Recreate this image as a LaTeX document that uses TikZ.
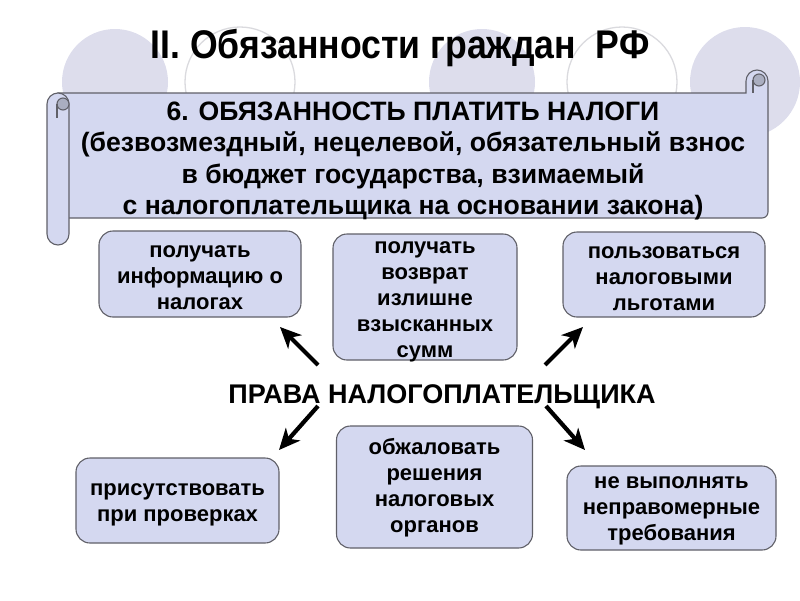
\documentclass[tikz,border=0pt]{standalone}
\usepackage{fontspec}
\setmainfont{Liberation Sans}
\newfontfamily\condfont[FakeStretch=0.89]{Liberation Sans}
\usetikzlibrary{arrows.meta}
\definecolor{boxfill}{RGB}{212,216,240}
\definecolor{boxline}{RGB}{96,96,104}
\definecolor{circfill}{RGB}{221,221,236}
\definecolor{circline}{RGB}{218,218,222}
\definecolor{curlfill}{RGB}{170,174,192}
\tikzset{
  rbox/.style={draw=boxline, fill=boxfill, line width=1.1pt, rounded corners=14pt, inner sep=0pt},
  boxtext/.style={align=center, inner sep=0pt, font=\fontsize{22}{26}\selectfont\bfseries},
  scrollpart/.style={draw=boxline, fill=boxfill, line width=1.1pt},
  bigarrow/.style={line width=4.2pt, -{Stealth[length=21pt,width=19pt,inset=6pt]}},
  bgfilled/.style={fill=circfill},
  bgring/.style={draw=circline, line width=1.3pt}
}
\begin{document}
\begin{tikzpicture}[x=1pt,y=-1pt]
\useasboundingbox (0,0) rectangle (800,600);
% background circles
\fill[bgfilled] (115,82) circle[radius=53pt];
\draw[bgring] (240,82) circle[radius=55pt];
\fill[bgfilled] (482,82) circle[radius=53pt];
\draw[bgring] (622,82) circle[radius=55pt];
\fill[bgfilled] (745,82) circle[radius=55pt];
% title
\node[font=\condfont\fontsize{40}{44}\selectfont\bfseries] (title) at (400,48) {II. Обязанности граждан\ \ РФ};
% scroll body
\draw[scrollpart] (58,93) -- (746,93) -- (746,81) arc[start angle=180,end angle=0,radius=11pt]
  -- (768,212) arc[start angle=0,end angle=-90,radius=6pt] -- (58,218) -- cycle;
\draw[boxline, line width=1.1pt, fill=curlfill] (759,80) circle[radius=6pt];
\draw[boxline, line width=1.1pt] (753,80) -- (753,93);
% left roll
\draw[scrollpart] (47,104) arc[start angle=180,end angle=0,radius=11pt]
  -- (69,234) arc[start angle=0,end angle=-180,radius=11pt] -- cycle;
\draw[boxline, line width=1.1pt, fill=curlfill] (63,104) circle[radius=6pt];
\draw[boxline, line width=1.1pt] (57,104) -- (57,118);
% scroll text
\node[align=center, font=\fontsize{26.6}{31.5}\selectfont\bfseries] (duty) at (413,161)
  {6. ОБЯЗАННОСТЬ ПЛАТИТЬ НАЛОГИ\\(безвозмездный, нецелевой, обязательный взнос\\в бюджет государства, взимаемый\\с налогоплательщика на основании закона)};
% boxes
\node[rbox, minimum width=202pt, minimum height=86pt] (info) at (200,274) {};
\node[boxtext] (infoT) at (200,278) {получать\\информацию о\\налогах};
\node[rbox, minimum width=184pt, minimum height=126pt] (refund) at (425,297) {};
\node[boxtext] (refundT) at (425,302) {получать\\возврат\\излишне\\взысканных\\сумм};
\node[rbox, minimum width=202pt, minimum height=85pt] (benefit) at (664,274.5) {};
\node[boxtext] (benefitT) at (664,278.5) {пользоваться\\налоговыми\\льготами};
\node[rbox, minimum width=203pt, minimum height=85pt] (attend) at (177.5,500.5) {};
\node[boxtext] (attendT) at (177.5,505) {присутствовать\\при проверках};
\node[rbox, minimum width=196pt, minimum height=122pt] (appeal) at (434.5,487) {};
\node[boxtext] (appealT) at (434.5,488) {обжаловать\\решения\\налоговых\\органов};
\node[rbox, minimum width=209pt, minimum height=84pt] (refuse) at (671.5,508) {};
\node[boxtext] (refuseT) at (671.5,511) {не выполнять\\неправомерные\\требования};
% rights label
\node[font=\fontsize{27}{30}\selectfont\bfseries] (rights) at (442,397) {ПРАВА НАЛОГОПЛАТЕЛЬЩИКА};
% arrows
\coordinate (nwT) at (318,365); \coordinate (nwH) at (280,327);
\coordinate (neT) at (545,365); \coordinate (neH) at (583,327);
\coordinate (swT) at (318,406); \coordinate (swH) at (279,450);
\coordinate (seT) at (546,406); \coordinate (seH) at (585,450);
\draw[bigarrow] (nwT) -- (nwH);
\draw[bigarrow] (neT) -- (neH);
\draw[bigarrow] (swT) -- (swH);
\draw[bigarrow] (seT) -- (seH);
\end{tikzpicture}
\end{document}
